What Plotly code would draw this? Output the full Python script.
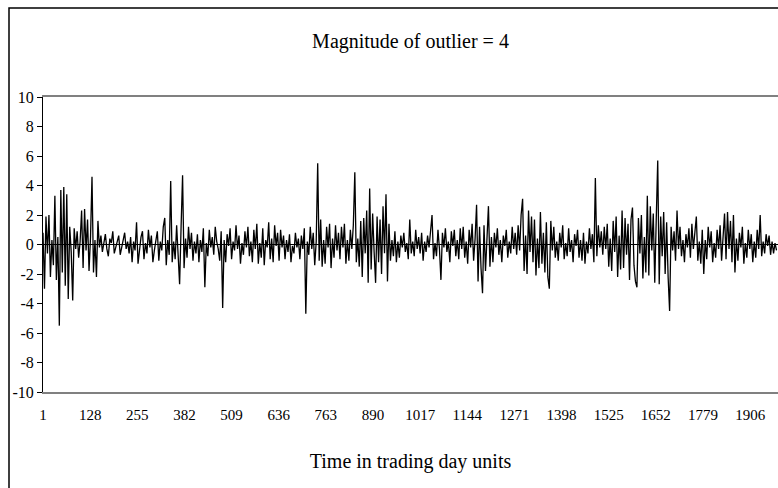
import plotly.graph_objects as go

# Hand-read values, sampled every 4 trading days (day 1, 5, 9, ...)
step_days = 4
returns = [
    0.8, -3.0, 1.9, -0.6, 2.0, -2.2, 0.3, -1.4, 3.3, -2.4, 0.5, -5.5, 3.7, -1.9, 3.9, -2.8, 3.4, -3.7, 1.2, -0.5,
    -3.8, 1.1, -0.3, 0.9, -0.9, 0.2, 2.3, -1.6, 2.4, -0.4, 1.7, -1.8, 0.5, 4.6, -1.9, 0.3, -2.2, 1.6, -0.2, 0.6,
    -0.5, 0.2, 0.7, -0.3, -0.8, 0.4, 0.1, 0.9, -0.6, -0.2, 0.3, 0.6, -0.7, -0.1, 0.4, 0.8, -0.3, 0.2, -0.6, 0.5,
    -1.2, 0.2, -0.4, 1.5, -1.3, -0.3, 0.5, 0.9, -1.0, 0.1, -0.6, 1.0, -0.2, 0.6, -1.2, -0.4, 0.3, 0.9, -1.1, 0.2,
    -0.4, 1.2, 1.8, -1.4, 0.3, -0.7, 4.3, -1.2, 0.2, -1.0, 1.3, -0.3, -2.7, 1.2, 4.7, -1.6, 0.4, -0.9, 1.2, -0.3,
    0.8, -1.1, 0.2, -0.6, 0.7, -1.2, 0.3, -0.5, 1.1, -2.9, 0.1, -0.8, 1.0, -0.2, 0.5, -0.7, 1.2, 0.2, -0.3, -1.1,
    0.9, -4.3, 0.3, -1.2, 0.7, -0.1, 1.1, -1.0, 0.2, -0.4, 1.3, -0.3, 0.6, -1.3, 0.1, -0.7, 0.9, -0.2, 1.2, -0.8,
    0.2, -1.2, 1.0, -0.3, 1.4, -1.3, 0.1, -0.9, 1.1, -1.4, 0.3, -0.2, 1.5, -1.0, 0.4, -1.2, 1.3, -0.1, 0.8, -1.1,
    1.0, -0.2, 0.6, -1.0, 0.3, -0.5, 0.7, -1.2, -0.1, -0.6, 0.8, -0.2, 0.4, -1.0, 0.6, -0.3, 1.1, -4.7, 0.2, -0.7,
    1.2, -0.3, 0.8, -1.4, 0.2, 5.5, -1.1, 1.7, -1.5, 0.3, -1.3, 1.2, -0.2, 1.4, -1.6, 0.4, -0.9, 1.3, -0.4, 0.8,
    -1.0, 1.2, -0.2, 1.4, -1.3, 0.3, -1.1, 1.0, -0.3, 1.3, 4.9, -1.2, 0.4, -1.5, 1.6, -2.2, 1.8, -0.6, 2.3, -2.6,
    3.8, -1.7, 2.1, -0.5, -2.6, 1.9, -1.2, 1.7, -2.0, 2.6, -0.6, 3.4, -2.5, 1.4, -1.1, 0.3, -0.8, 0.9, -1.2, 0.2,
    -0.9, 0.6, -0.2, 0.8, -0.5, 0.1, -1.0, 1.7, -0.6, 0.2, -0.8, 1.0, -0.3, 0.5, -0.6, 0.8, -1.1, 0.2, -0.5, 0.6,
    -0.2, 0.9, 2.0, -1.0, 0.1, -0.8, 1.0, -0.3, -2.4, 0.8, -0.2, 1.1, -0.5, 0.2, -1.2, 0.9, -0.1, 1.0, -0.8, 0.3,
    -1.0, 1.1, -0.3, 1.2, -0.9, 0.2, -1.3, 1.0, -0.2, 1.4, -1.1, 0.4, 2.7, -2.5, 1.2, -1.6, -3.3, 1.3, -1.8, 0.4,
    2.6, -1.5, 0.5, -1.2, 0.8, -0.2, 1.1, -0.7, 0.3, -1.2, 0.6, -0.1, 1.0, -0.9, 0.2, -0.6, 1.2, -0.3, 0.8, -0.7,
    1.3, -0.4, 2.0, 3.1, -1.8, 0.6, -2.0, 2.3, -0.5, 1.9, -1.2, 1.7, -2.1, 0.4, -1.6, 2.2, -1.3, 0.8, -1.9, 1.5,
    -2.2, -3.0, 1.6, -0.4, 1.2, -0.9, 0.2, -1.1, 0.8, -0.2, 1.3, -1.0, 0.1, -0.8, 1.1, -0.5, 0.3, -1.2, 0.7, -0.1,
    1.0, -0.9, 0.3, -1.1, 0.8, -1.3, 0.2, -0.6, 1.1, -0.3, 0.7, -1.2, 4.5, -0.8, 1.3, -0.2, 0.9, -0.7, 1.2, -0.3,
    1.4, -1.5, 0.4, -1.8, 1.6, -0.5, 1.9, -2.2, 0.6, -1.7, 2.3, -1.6, 1.8, -0.7, 1.4, -2.4, 1.7, 2.5, -1.4, -2.5,
    -2.9, 1.8, -0.6, 2.0, -2.3, 0.5, -1.9, 3.3, -2.1, 2.6, -0.4, 2.1, -2.6, 1.7, 5.7, -2.7, 1.9, -0.8, 2.2, -2.0,
    1.5, -2.2, -4.5, 1.2, -0.4, 0.9, -1.1, 2.3, -0.3, 1.2, -0.8, 0.3, -1.2, 0.7, -0.2, 1.1, -0.9, 1.4, -0.3, 0.8,
    1.9, -1.1, 0.2, -1.3, 1.0, -2.0, 0.3, -1.0, 1.2, -0.2, 0.9, -1.2, 0.1, -0.9, 1.0, -0.3, 1.3, -1.1, 0.2, 2.1,
    -1.0, 2.2, -0.3, 1.6, -1.2, 2.0, -1.9, 0.4, -1.1, 0.8, -0.2, 1.2, -1.3, 0.1, -0.9, 1.0, -0.3, 0.7, -1.2, 0.2,
    -0.9, 1.0, -0.3, 2.0, -0.8, 0.2, -0.6, 0.7, -0.1, 0.6, -0.7, 0.2, -0.6, 0.1, -0.4,
]
days = [1 + step_days * i for i in range(len(returns))]

x_tick_labels = [1, 128, 255, 382, 509, 636, 763, 890, 1017, 1144, 1271, 1398, 1525, 1652, 1779, 1906]
y_ticks = [-10, -8, -6, -4, -2, 0, 2, 4, 6, 8, 10]
y_tick_text = ["-10", "-8", "-6", "-4", "-2", "0", "2", "4", "6", "8", "10"]

title_text = "Magnitude of outlier = 4"
x_title = "Time in trading day units"

FONT = "Liberation Serif, Times New Roman, serif"

fig = go.Figure()
fig.add_trace(go.Scatter(
    x=days, y=returns, mode="lines",
    line=dict(color="black", width=1.3),
    hoverinfo="skip", showlegend=False,
))

fig.update_layout(
    width=778, height=488,
    margin=dict(l=43, r=0, t=97, b=96),
    paper_bgcolor="white", plot_bgcolor="white",
    font=dict(family=FONT, color="black", size=15),
    showlegend=False,
    title=dict(text=title_text, x=0.5, xref="paper", xanchor="center",
               y=1 - 41 / 488, yref="container", yanchor="middle",
               font=dict(family=FONT, size=20, color="black")),
    xaxis=dict(
        range=[1, 1981], tickmode="array", tickvals=x_tick_labels,
        ticktext=[str(v) for v in x_tick_labels],
        showgrid=False, zeroline=False,
        showline=True, linecolor="#808080", linewidth=2, mirror=True,
        ticks="", ticklabelstandoff=8,
        tickfont=dict(family=FONT, size=15, color="black"),
        title=dict(text=x_title, font=dict(family=FONT, size=20, color="black"), standoff=32),
    ),
    yaxis=dict(
        range=[-10, 10], tickmode="array", tickvals=y_ticks, ticktext=y_tick_text,
        showgrid=False,
        zeroline=True, zerolinecolor="black", zerolinewidth=1,
        showline=True, linecolor="black", linewidth=1,
        ticks="outside", ticklen=5, tickcolor="black", tickwidth=1,
        tickfont=dict(family=FONT, size=16, color="black"),
    ),
    shapes=[dict(type="rect", xref="paper", yref="paper",
                 x0=(9 - 43) / 735, x1=1.05, y0=-0.5, y1=1 + (97 - 8) / 294.7,
                 line=dict(color="black", width=1.5), fillcolor="rgba(0,0,0,0)", layer="below")],
)

fig.write_html("out.html")
